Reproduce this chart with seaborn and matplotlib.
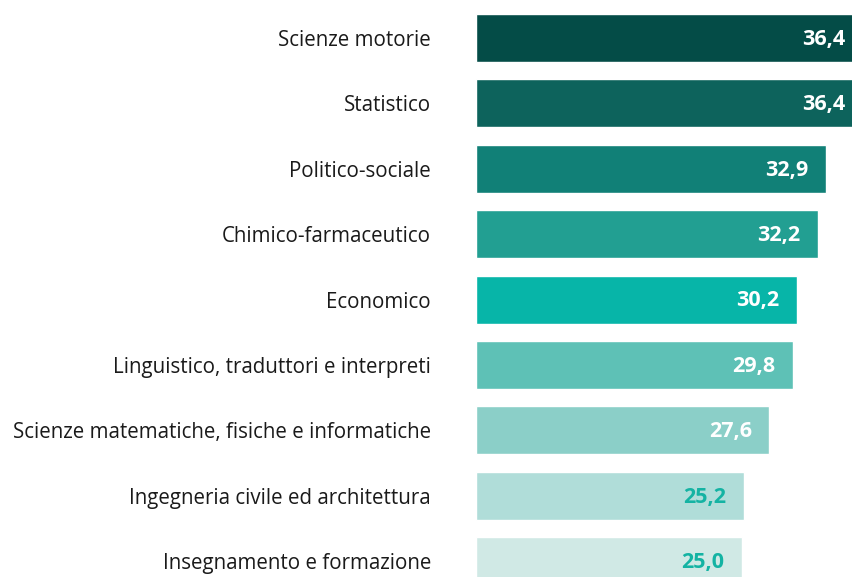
import matplotlib
matplotlib.use("Agg")
import matplotlib.pyplot as plt
import seaborn as sns
import pandas as pd

categories = [
    "Scienze motorie",
    "Statistico",
    "Politico-sociale",
    "Chimico-farmaceutico",
    "Economico",
    "Linguistico, traduttori e interpreti",
    "Scienze matematiche, fisiche e informatiche",
    "Ingegneria civile ed architettura",
    "Insegnamento e formazione",
]
values = [36.4, 36.4, 32.9, 32.2, 30.2, 29.8, 27.6, 25.2, 25.0]
labels = ["36,4", "36,4", "32,9", "32,2", "30,2", "29,8", "27,6", "25,2", "25,0"]
bar_colors = ["#044c47", "#0d635c", "#118077", "#229f92", "#07b5a8",
              "#5ec1b6", "#8bcfc8", "#b0ddd9", "#d0e9e5"]
label_colors = ["white"] * 7 + ["#14b3a3"] * 2

sns.set_theme(style="white")
plt.rcParams["font.family"] = ["Open Sans", "DejaVu Sans"]

df = pd.DataFrame({"categoria": categories, "valore": values})

fig = plt.figure(figsize=(8.53, 5.77), dpi=100)
ax = fig.add_axes([476 / 853, 0, 1 - 476 / 853, 1])

sns.barplot(data=df, y="categoria", x="valore", hue="categoria",
            palette=bar_colors, order=categories, hue_order=categories,
            orient="h", width=0.734, legend=False, ax=ax, saturation=1)

ax.set_xlim(0, 35.47)
ax.set_ylim(8.242, -0.581)
ax.set_xlabel("")
ax.set_ylabel("")
ax.set_xticks([])
for s in ax.spines.values():
    s.set_visible(False)
ax.tick_params(axis="y", length=0, pad=32.4, labelsize=14.8, labelcolor="#1a1a1a")

for i, (v, lab, c) in enumerate(zip(values, labels, label_colors)):
    ax.text(v - 1.65, i + 0.02, lab, ha="right", va="center", color=c,
            fontsize=15.5, fontweight="bold")

fig.savefig("out.png", dpi=100)
